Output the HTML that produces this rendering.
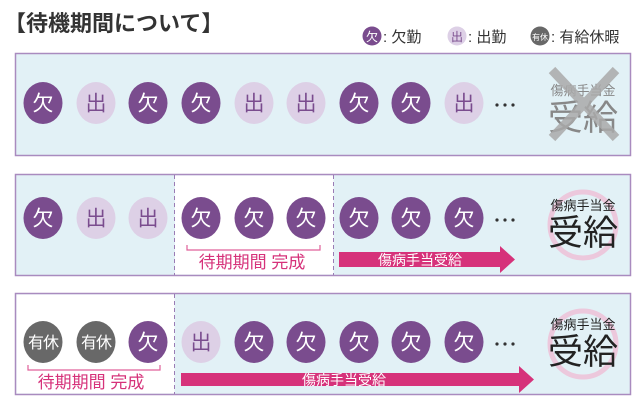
<!DOCTYPE html>
<html><head><meta charset="utf-8"><style>
html,body{margin:0;padding:0;background:#fff;width:640px;height:413px;overflow:hidden}
svg{display:block}
text{font-family:"Liberation Sans","Noto Sans CJK JP",sans-serif}
</style></head><body>
<svg width="640" height="413" viewBox="0 0 640 413" xmlns="http://www.w3.org/2000/svg">
<defs>
<g id="k"><ellipse rx="19.5" ry="21" fill="#7a4c8e"/><text y="7.5" text-anchor="middle" font-size="21" fill="#fff">欠</text></g>
<g id="s"><ellipse rx="19.5" ry="21" fill="#ddd0e6"/><text y="7.5" text-anchor="middle" font-size="21" fill="#7a4c8e">出</text></g>
<g id="y"><ellipse rx="19.5" ry="21" fill="#686868"/><text y="6" text-anchor="middle" font-size="16" fill="#fff" letter-spacing="-1">有休</text></g>
<g id="d"><circle cx="-8" r="1.6" fill="#333"/><circle r="1.6" fill="#333"/><circle cx="8" r="1.6" fill="#333"/></g>
</defs>
<text x="4" y="31" font-size="22" font-weight="bold" fill="#333">【待機期間について】</text>
<circle cx="372" cy="36" r="9.5" fill="#7a4c8e"/><text x="372" y="41" text-anchor="middle" font-size="12" fill="#fff">欠</text>
<text x="383" y="42" font-size="15" fill="#333">: 欠勤</text>
<circle cx="457" cy="36" r="9.5" fill="#ddd0e6"/><text x="457" y="41" text-anchor="middle" font-size="12" fill="#7a4c8e">出</text>
<text x="468" y="42" font-size="15" fill="#333">: 出勤</text>
<circle cx="540" cy="36" r="9.5" fill="#686868"/><text x="540" y="40" text-anchor="middle" font-size="8" fill="#fff">有休</text>
<text x="551" y="42" font-size="15" fill="#333">: 有給休暇</text>

<!-- Panel 1 -->
<rect x="15.5" y="53.5" width="615" height="102" fill="#e2f1f6" stroke="#a98bbf" stroke-width="1.5"/>
<use href="#k" x="43" y="103"/><use href="#s" x="96" y="103"/><use href="#k" x="148" y="103"/>
<use href="#k" x="201" y="103"/><use href="#s" x="254" y="103"/><use href="#s" x="306" y="103"/>
<use href="#k" x="359" y="103"/><use href="#k" x="411" y="103"/><use href="#s" x="464" y="103"/>
<use href="#d" x="505" y="105"/>
<text x="583" y="95" text-anchor="middle" font-size="13" fill="#888">傷病手当金</text>
<text x="583" y="130" text-anchor="middle" font-size="35" fill="#888">受給</text>
<path d="M552 70 L616 138 M616 70 L552 138" stroke="#aaa" stroke-width="9" opacity="0.85"/>

<!-- Panel 2 -->
<rect x="15.5" y="174.5" width="615" height="101" fill="#e2f1f6" stroke="#a98bbf" stroke-width="1.5"/>
<rect x="175" y="175.5" width="158.5" height="99" fill="#fff"/>
<line x1="174.5" y1="175" x2="174.5" y2="275" stroke="#9a7cb5" stroke-dasharray="4,3"/>
<line x1="333.5" y1="175" x2="333.5" y2="275" stroke="#9a7cb5" stroke-dasharray="4,3"/>
<use href="#k" x="43" y="218"/><use href="#s" x="96" y="218"/><use href="#s" x="148" y="218"/>
<use href="#k" x="201" y="218"/><use href="#k" x="254" y="218"/><use href="#k" x="306" y="218"/>
<use href="#k" x="359" y="218"/><use href="#k" x="411" y="218"/><use href="#k" x="464" y="218"/>
<use href="#d" x="505" y="220"/>
<path d="M187 245 V250 H320 V245" fill="none" stroke="#e0609a" stroke-width="1.2"/>
<text x="252" y="268" text-anchor="middle" font-size="17" fill="#d6327a">待期期間 完成</text>
<path d="M339 252 H500 V246 L515 259.5 L500 273 V267 H339 Z" fill="#d6327a"/>
<text x="420" y="265" text-anchor="middle" font-size="14" fill="#fff">傷病手当受給</text>
<circle cx="583" cy="225" r="33" fill="none" stroke="#ecc8dc" stroke-width="5"/>
<text x="583" y="210" text-anchor="middle" font-size="13" fill="#222">傷病手当金</text>
<text x="583" y="245" text-anchor="middle" font-size="35" fill="#222">受給</text>

<!-- Panel 3 -->
<rect x="15.5" y="293.5" width="615" height="101" fill="#e2f1f6" stroke="#a98bbf" stroke-width="1.5"/>
<rect x="16.5" y="294.5" width="158" height="99" fill="#fff"/>
<line x1="174.5" y1="294" x2="174.5" y2="394" stroke="#9a7cb5" stroke-dasharray="4,3"/>
<use href="#y" x="43" y="342"/><use href="#y" x="96" y="342"/><use href="#k" x="148" y="342"/>
<use href="#s" x="201" y="342"/><use href="#k" x="254" y="342"/><use href="#k" x="306" y="342"/>
<use href="#k" x="359" y="342"/><use href="#k" x="411" y="342"/><use href="#k" x="464" y="342"/>
<use href="#d" x="505" y="344"/>
<path d="M28 365 V370 H160 V365" fill="none" stroke="#e0609a" stroke-width="1.2"/>
<text x="91" y="388" text-anchor="middle" font-size="17" fill="#d6327a">待期期間 完成</text>
<path d="M181 373 H519 V366 L534 379.5 L519 393 V386 H181 Z" fill="#d6327a"/>
<text x="344" y="385" text-anchor="middle" font-size="14" fill="#fff">傷病手当受給</text>
<circle cx="583" cy="344" r="33" fill="none" stroke="#ecc8dc" stroke-width="5"/>
<text x="583" y="329" text-anchor="middle" font-size="13" fill="#222">傷病手当金</text>
<text x="583" y="364" text-anchor="middle" font-size="35" fill="#222">受給</text>
</svg>
</body></html>
